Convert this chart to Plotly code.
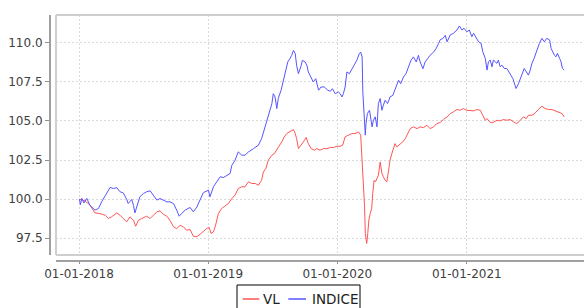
import plotly.graph_objects as go

# ---------------- data ----------------
indice_dates = [
    "2018-01-02", "2018-01-05", "2018-01-09", "2018-01-15", "2018-01-23", "2018-02-01", "2018-02-15", "2018-02-25",
    "2018-03-06", "2018-03-20", "2018-03-30", "2018-04-08", "2018-04-18", "2018-04-27", "2018-05-06", "2018-05-16",
    "2018-05-20", "2018-05-30", "2018-06-04", "2018-06-08", "2018-06-13", "2018-06-22", "2018-07-02", "2018-07-11",
    "2018-07-21", "2018-07-30", "2018-08-09", "2018-08-18", "2018-08-27", "2018-09-06", "2018-09-15", "2018-09-25",
    "2018-10-04", "2018-10-11", "2018-10-18", "2018-10-28", "2018-11-11", "2018-11-20", "2018-11-30", "2018-12-09",
    "2018-12-18", "2018-12-23", "2019-01-02", "2019-01-06", "2019-01-16", "2019-01-25", "2019-02-04", "2019-02-13",
    "2019-02-23", "2019-03-04", "2019-03-09", "2019-03-18", "2019-03-27", "2019-04-06", "2019-04-15", "2019-04-25",
    "2019-05-09", "2019-05-23", "2019-06-01", "2019-06-11", "2019-06-16", "2019-06-22", "2019-06-30", "2019-07-04",
    "2019-07-09", "2019-07-14", "2019-07-18", "2019-07-26", "2019-08-02", "2019-08-08", "2019-08-14", "2019-08-20",
    "2019-08-25", "2019-08-30", "2019-09-04", "2019-09-08", "2019-09-13", "2019-09-21", "2019-09-24", "2019-10-02",
    "2019-10-07", "2019-10-11", "2019-10-19", "2019-10-25", "2019-11-01", "2019-11-09", "2019-11-16", "2019-11-25",
    "2019-12-05", "2019-12-12", "2019-12-18", "2019-12-26", "2020-01-04", "2020-01-09", "2020-01-14", "2020-01-18",
    "2020-01-23", "2020-01-28", "2020-02-04", "2020-02-11", "2020-02-17", "2020-02-25", "2020-03-03", "2020-03-07",
    "2020-03-11", "2020-03-13", "2020-03-17", "2020-03-20", "2020-03-22", "2020-03-26", "2020-04-01", "2020-04-05",
    "2020-04-08", "2020-04-12", "2020-04-17", "2020-04-22", "2020-04-26", "2020-05-01", "2020-05-06", "2020-05-10",
    "2020-05-15", "2020-05-22", "2020-05-29", "2020-06-06", "2020-06-12", "2020-06-22", "2020-06-28", "2020-07-06",
    "2020-07-13", "2020-07-20", "2020-07-27", "2020-08-03", "2020-08-11", "2020-08-17", "2020-08-22", "2020-08-30",
    "2020-09-05", "2020-09-12", "2020-09-19", "2020-09-29", "2020-10-06", "2020-10-13", "2020-10-18", "2020-10-25",
    "2020-11-01", "2020-11-06", "2020-11-15", "2020-11-24", "2020-12-04", "2020-12-11", "2020-12-18", "2020-12-24",
    "2021-01-01", "2021-01-08", "2021-01-15", "2021-01-20", "2021-01-27", "2021-02-03", "2021-02-10", "2021-02-15",
    "2021-02-22", "2021-02-27", "2021-03-03", "2021-03-08", "2021-03-13", "2021-03-17", "2021-03-22", "2021-03-27",
    "2021-03-31", "2021-04-05", "2021-04-10", "2021-04-17", "2021-04-24", "2021-05-01", "2021-05-05", "2021-05-11",
    "2021-05-15", "2021-05-20", "2021-05-27", "2021-06-01", "2021-06-05", "2021-06-12", "2021-06-18", "2021-06-24",
    "2021-06-29", "2021-07-04", "2021-07-10", "2021-07-18", "2021-07-25", "2021-08-01", "2021-08-08", "2021-08-15",
    "2021-08-23", "2021-08-27", "2021-09-01", "2021-09-05", "2021-09-10", "2021-09-14", "2021-09-20", "2021-09-24",
    "2021-09-28", "2021-10-03",
]
indice_values = [
    100.00, 99.65, 100.05, 99.75, 100.05, 99.60, 99.30, 99.40,
    99.83, 100.36, 100.75, 100.68, 100.73, 100.47, 100.40, 99.98,
    99.72, 99.98, 99.60, 99.12, 99.50, 100.15, 100.36, 100.47,
    100.53, 100.26, 99.94, 100.04, 99.94, 99.83, 99.83, 99.72,
    99.30, 98.91, 99.08, 99.30, 99.47, 99.19, 99.50, 99.98,
    100.40, 100.47, 100.57, 100.15, 100.79, 101.10, 101.43, 101.38,
    101.53, 101.64, 102.17, 102.49, 103.02, 102.81, 102.81, 103.02,
    103.23, 103.45, 103.87, 104.62, 104.94, 105.36, 106.10, 106.74,
    106.53, 105.79, 106.43, 106.96, 107.70, 108.13, 108.77, 108.98,
    109.19, 109.51, 109.30, 108.55, 108.02, 108.55, 108.87, 108.77,
    108.55, 108.13, 107.81, 107.49, 107.70, 106.96, 107.17, 107.17,
    106.96, 106.90, 107.06, 106.74, 106.85, 106.74, 106.53, 106.74,
    107.17, 108.13, 108.02, 108.34, 108.55, 108.87, 109.30, 109.40,
    109.09, 106.85, 105.04, 104.09, 104.83, 105.47, 105.68, 105.04,
    104.62, 105.04, 105.26, 104.62, 106.11, 106.43, 105.68, 106.00,
    106.32, 106.11, 106.53, 106.64, 106.96, 107.60, 107.38, 107.81,
    108.02, 108.45, 108.87, 109.09, 108.77, 109.19, 108.77, 108.34,
    108.77, 108.98, 109.19, 109.40, 109.62, 109.94, 110.20, 110.26,
    110.47, 110.06, 110.49, 110.60, 110.81, 111.07, 110.81, 110.92,
    110.70, 110.81, 110.38, 110.60, 110.28, 110.06, 109.96, 109.42,
    109.00, 108.25, 108.78, 108.89, 108.46, 108.89, 108.78, 108.68,
    108.89, 108.46, 108.57, 108.35, 108.35, 108.03, 107.93, 107.71,
    107.39, 107.07, 107.39, 107.71, 107.93, 108.35, 108.14, 107.93,
    108.25, 108.68, 109.00, 109.53, 109.96, 110.28, 110.06, 110.28,
    110.17, 109.64, 109.42, 109.21, 109.10, 109.32, 109.00, 108.78,
    108.35, 108.25,
]

vl_dates = [
    "2018-01-02", "2018-01-18", "2018-02-01", "2018-02-15", "2018-03-01", "2018-03-16", "2018-03-25", "2018-04-03",
    "2018-04-18", "2018-04-27", "2018-05-06", "2018-05-16", "2018-05-25", "2018-06-04", "2018-06-10", "2018-06-18",
    "2018-06-27", "2018-07-11", "2018-07-21", "2018-07-30", "2018-08-09", "2018-08-18", "2018-08-27", "2018-09-06",
    "2018-09-15", "2018-09-25", "2018-10-04", "2018-10-14", "2018-10-23", "2018-11-01", "2018-11-11", "2018-11-20",
    "2018-11-30", "2018-12-09", "2018-12-18", "2018-12-28", "2019-01-04", "2019-01-09", "2019-01-16", "2019-01-22",
    "2019-01-30", "2019-02-08", "2019-02-18", "2019-02-27", "2019-03-09", "2019-03-18", "2019-03-27", "2019-04-06",
    "2019-04-15", "2019-04-25", "2019-05-04", "2019-05-14", "2019-05-23", "2019-06-01", "2019-06-06", "2019-06-13",
    "2019-06-20", "2019-06-30", "2019-07-07", "2019-07-14", "2019-07-20", "2019-07-28", "2019-08-04", "2019-08-11",
    "2019-08-20", "2019-08-30", "2019-09-04", "2019-09-08", "2019-09-13", "2019-09-21", "2019-09-27", "2019-10-05",
    "2019-10-11", "2019-10-19", "2019-10-28", "2019-11-04", "2019-11-13", "2019-11-23", "2019-12-02", "2019-12-12",
    "2019-12-21", "2019-12-31", "2020-01-09", "2020-01-16", "2020-01-23", "2020-02-01", "2020-02-11", "2020-02-20",
    "2020-03-01", "2020-03-07", "2020-03-10", "2020-03-13", "2020-03-15", "2020-03-18", "2020-03-20", "2020-03-24",
    "2020-03-27", "2020-03-30", "2020-04-03", "2020-04-07", "2020-04-10", "2020-04-14", "2020-04-18", "2020-04-22",
    "2020-04-26", "2020-05-01", "2020-05-06", "2020-05-10", "2020-05-15", "2020-05-20", "2020-05-24", "2020-05-29",
    "2020-06-03", "2020-06-08", "2020-06-12", "2020-06-17", "2020-06-26", "2020-07-04", "2020-07-11", "2020-07-17",
    "2020-07-25", "2020-08-03", "2020-08-13", "2020-08-22", "2020-08-31", "2020-09-10", "2020-09-19", "2020-09-29",
    "2020-10-08", "2020-10-18", "2020-10-27", "2020-11-06", "2020-11-15", "2020-11-24", "2020-12-04", "2020-12-13",
    "2020-12-22", "2021-01-01", "2021-01-10", "2021-01-20", "2021-01-29", "2021-02-08", "2021-02-15", "2021-02-22",
    "2021-02-27", "2021-03-06", "2021-03-13", "2021-03-19", "2021-03-27", "2021-04-05", "2021-04-14", "2021-04-24",
    "2021-05-03", "2021-05-13", "2021-05-22", "2021-06-01", "2021-06-10", "2021-06-18", "2021-06-24", "2021-07-04",
    "2021-07-13", "2021-07-22", "2021-08-01", "2021-08-10", "2021-08-20", "2021-08-29", "2021-09-08", "2021-09-17",
    "2021-09-27", "2021-10-03",
]
vl_values = [
    100.00, 99.89, 99.62, 99.12, 99.08, 98.97, 98.76, 98.87,
    99.12, 98.97, 98.76, 98.55, 98.87, 98.65, 98.27, 98.65,
    98.76, 98.91, 98.76, 98.97, 99.19, 99.25, 99.04, 98.91,
    98.65, 98.23, 98.12, 98.33, 98.23, 98.01, 98.06, 97.63,
    97.60, 97.75, 97.91, 98.13, 98.19, 97.81, 97.91, 98.34,
    99.09, 99.40, 99.57, 99.72, 100.04, 100.26, 100.68, 100.79,
    100.79, 101.11, 101.00, 101.00, 100.89, 101.21, 101.74, 101.96,
    102.49, 102.81, 102.91, 103.13, 103.38, 103.66, 103.98, 104.19,
    104.30, 104.45, 104.19, 103.87, 103.23, 103.45, 103.66, 103.94,
    103.55, 103.23, 103.13, 103.23, 103.13, 103.23, 103.23, 103.30,
    103.30, 103.38, 103.38, 103.45, 103.98, 104.09, 104.19, 104.19,
    104.30, 104.09, 102.91, 101.53, 100.79, 99.51, 97.81, 97.17,
    97.81, 98.66, 99.09, 99.40, 100.36, 101.21, 101.11, 101.32,
    101.53, 102.38, 101.64, 101.43, 101.21, 101.11, 101.74, 102.49,
    102.91, 103.34, 103.55, 103.34, 103.51, 103.66, 103.87, 104.19,
    104.51, 104.62, 104.51, 104.62, 104.57, 104.72, 104.51, 104.62,
    104.83, 104.90, 105.10, 105.25, 105.47, 105.58, 105.73, 105.68,
    105.79, 105.68, 105.68, 105.64, 105.73, 105.68, 105.36, 105.04,
    105.15, 104.94, 104.87, 104.94, 105.04, 105.00, 105.09, 105.04,
    105.09, 104.94, 104.83, 105.04, 105.26, 105.15, 105.36, 105.36,
    105.51, 105.73, 105.94, 105.79, 105.73, 105.73, 105.64, 105.58,
    105.47, 105.26,
]

series_names = ["VL", "INDICE"]
series_colors = ["#ff5555", "#5555ff"]
x_tick_dates = ["2018-01-01", "2019-01-01", "2020-01-01", "2021-01-01"]
x_tick_labels = ["01-01-2018", "01-01-2019", "01-01-2020", "01-01-2021"]
y_tick_values = [97.5, 100.0, 102.5, 105.0, 107.5, 110.0]
y_tick_labels = ["97.5", "100.0", "102.5", "105.0", "107.5", "110.0"]

# ---------------- figure ----------------
W, H = 584, 308
ML, MR, MT, MB = 50, 0, 15, 47
pw, ph = W - ML - MR, H - MT - MB
gap = 6  # offset between plot box and axis lines


def px(fx):
    return (fx - ML) / pw


def py(fy):
    return (H - MB - fy) / ph


fig = go.Figure()
fig.add_trace(go.Scatter(x=vl_dates, y=vl_values, mode="lines", name=series_names[0],
                         line=dict(color=series_colors[0], width=1)))
fig.add_trace(go.Scatter(x=indice_dates, y=indice_values, mode="lines", name=series_names[1],
                         line=dict(color=series_colors[1], width=1)))

grid = dict(showgrid=True, gridcolor="#d9d9d9", gridwidth=1, griddash="2px,2px")

# plot box: top, left and bottom edges (right edge lies beyond the window)
box_l, box_b = px(ML + gap), py(H - MB - gap)
box_line = dict(color="#cfcfcf", width=2)
shapes = [
    dict(type="line", xref="paper", yref="paper", x0=box_l, x1=1.0, y0=1, y1=1, line=box_line, layer="above"),
    dict(type="line", xref="paper", yref="paper", x0=box_l, x1=1.0, y0=box_b, y1=box_b, line=box_line, layer="above"),
    dict(type="line", xref="paper", yref="paper", x0=box_l, x1=box_l, y0=box_b, y1=1, line=box_line, layer="above"),
]

# legend drawn as a framed box below the plot (JFreeChart style)
leg_top, leg_bottom, leg_left, leg_right = 285, 320, 237, 360
leg_y = 299
leg_items = [(242.7, 259.3, 262.0), (288.3, 306.0, 310.5)]
shapes.append(dict(type="rect", xref="paper", yref="paper", x0=px(leg_left), x1=px(leg_right),
                   y0=py(leg_bottom), y1=py(leg_top), line=dict(color="#000000", width=1),
                   fillcolor="white"))
annotations = []
for (lx0, lx1, tx), name, color in zip(leg_items, series_names, series_colors):
    shapes.append(dict(type="line", xref="paper", yref="paper", x0=px(lx0), x1=px(lx1),
                       y0=py(leg_y), y1=py(leg_y), line=dict(color=color, width=1.5)))
    annotations.append(dict(xref="paper", yref="paper", x=px(tx), y=py(leg_y), text=name,
                            showarrow=False, xanchor="left", yanchor="middle", borderpad=0,
                            font=dict(family="DejaVu Sans", size=13.5, color="#222222")))

fig.update_layout(
    width=W, height=H,
    margin=dict(l=ML, r=MR, t=MT, b=MB, pad=0, autoexpand=False),
    paper_bgcolor="white", plot_bgcolor="white",
    font=dict(family="DejaVu Sans", size=12, color="#404040"),
    xaxis=dict(domain=[gap / pw, 1], anchor="free", position=0, automargin=False,
               range=["2017-10-28", "2021-11-28"],
               tickmode="array", tickvals=x_tick_dates, ticktext=x_tick_labels,
               ticks="outside", ticklen=2, tickcolor="#909090",
               showline=True, linecolor="#a0a0a0", linewidth=2,
               zeroline=False, **grid),
    yaxis=dict(domain=[gap / ph, 1], anchor="free", position=0, automargin=False,
               range=[96.43, 111.77],
               tickmode="array", tickvals=y_tick_values, ticktext=y_tick_labels,
               ticks="outside", ticklen=4, tickcolor="#909090",
               showline=True, linecolor="#a0a0a0", linewidth=2,
               zeroline=False, **grid),
    showlegend=False,
    hovermode=False,
    shapes=shapes,
    annotations=annotations,
)

# the figure fills the whole window: drop the page's default body margin and scrollbars
fig.write_html(
    "out.html",
    config={"displayModeBar": False, "staticPlot": True},
    post_script="document.body.style.margin='0';document.body.style.overflow='hidden';"
                "document.documentElement.style.overflow='hidden';",
)
